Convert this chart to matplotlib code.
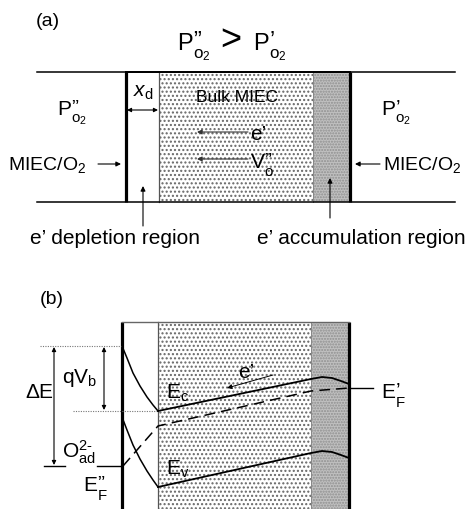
import numpy as np
import matplotlib
matplotlib.use("Agg")
import matplotlib.pyplot as plt
from matplotlib.patches import Rectangle

# =========================
# STYLE
# =========================
plt.rcParams['font.family'] = ['Liberation Sans', 'DejaVu Sans']
plt.rcParams['mathtext.fontset'] = 'custom'
plt.rcParams['mathtext.rm'] = 'Liberation Sans'
plt.rcParams['mathtext.it'] = 'Liberation Sans:italic'
plt.rcParams['mathtext.bf'] = 'Liberation Sans:bold'
plt.rcParams['hatch.linewidth'] = 1.0

W, H = 467, 509
THICK = 2.3
THIN = 0.9
DOT_COLOR = "#666666"
SHADE_COLOR = "#c0c0c0"
FS = 15

# =========================
# GEOMETRY (pixel units, y down)
# =========================
# panel (a): layer boundaries
A_TOP, A_BOT = 72, 202
A_LINE_X = [37, 455]
A_WALL_L, A_DEPL, A_ACC, A_WALL_R = 126, 159, 313, 350

# panel (b): layer boundaries
B_TOP, B_BOT = 322, 509
B_WALL_L, B_DEPL, B_ACC, B_WALL_R = 122, 158, 311, 349

# band edges (x, y)
EC_SURF_X = [122, 127, 133, 140, 147, 153, 158]
EC_SURF_Y = [346, 358, 373, 386, 397, 405, 411]
EV_SURF_X = [122, 127, 133, 140, 147, 153, 158]
EV_SURF_Y = [417, 430, 445, 459, 471, 480, 487]
EC_BULK_X = [158, 311, 322, 332, 341, 349]
EC_BULK_Y = [411, 379, 377, 378, 381, 384]
EV_BULK_X = [158, 311, 322, 332, 341, 349]
EV_BULK_Y = [487, 453, 451, 452, 455, 458]
EF_X = [123, 158, 311, 349]
EF_Y = [466, 426, 391, 388]

LEVEL_TOP, LEVEL_CB, LEVEL_EF = 346, 411, 466

DPR = "\u201d"   # double prime look
SPR = "\u2019"   # single prime look
E_EL = "e" + SPR
O2_SUB = r"$\mathrm{o}_{2}$"

fig = plt.figure(figsize=(W / 100, H / 100), dpi=100)
ax = fig.add_axes([0, 0, 1, 1])
ax.set_xlim(0, W)
ax.set_ylim(H, 0)
ax.axis("off")


def arrow(x0, y0, x1, y1, style="-|>", lw=0.8, ms=7, color="black"):
    ax.annotate("", xy=(x1, y1), xytext=(x0, y0),
                arrowprops=dict(arrowstyle=style, lw=lw, color=color,
                                mutation_scale=ms, shrinkA=0, shrinkB=0))


def sym(x, y, base, sup, sub, fs, sub_drop=0.36, z=6):
    """base letter with prime on top and subscript underneath, x/y = left baseline"""
    em = fs * 100 / 72
    bw = 0.667 * em
    ax.text(x, y, r"$\mathrm{%s}$" % base, fontsize=fs, ha="left", va="baseline", zorder=z)
    ax.text(x + bw + 0.01 * em, y - 0.12 * em, r"$\mathrm{%s}$" % sup, fontsize=fs,
            ha="left", va="baseline", zorder=z)
    ax.text(x + bw + 0.01 * em, y + sub_drop * em, sub, fontsize=fs * 0.72,
            ha="left", va="baseline", zorder=z)


def layers(top, bot, wl, dp, ac, wr):
    # dotted bulk
    ax.add_patch(Rectangle((dp, top), ac - dp, bot - top, facecolor="white",
                           edgecolor=DOT_COLOR, linewidth=0, hatch="....", zorder=1))
    # shaded accumulation
    ax.add_patch(Rectangle((ac, top), wr - ac, bot - top, facecolor=SHADE_COLOR,
                           edgecolor="#8f8f8f", linewidth=0, hatch="......", zorder=1))
    ax.plot([dp, dp], [top, bot], color="#555555", lw=THIN, zorder=2)
    ax.plot([ac, ac], [top, bot], color="#888888", lw=0.7, zorder=2)
    ax.plot([wl, wl], [top, bot], color="black", lw=THICK, zorder=3, solid_capstyle="butt")
    ax.plot([wr, wr], [top, bot], color="black", lw=THICK, zorder=3, solid_capstyle="butt")


# =========================
# PANEL (a)
# =========================
ax.text(48, 21, "(a)", fontsize=14, ha="center", va="center")
sym(177, 50, "P", DPR, O2_SUB, 17)
ax.text(231, 40, ">", fontsize=26, ha="center", va="center")
sym(253, 50, "P", SPR, O2_SUB, 17)

layers(A_TOP, A_BOT, A_WALL_L, A_DEPL, A_ACC, A_WALL_R)
for yy in (A_TOP, A_BOT):
    ax.plot(A_LINE_X, [yy, yy], color="black", lw=1.1, zorder=4)
ax.plot([A_WALL_L, A_WALL_R], [A_TOP, A_TOP], color="black", lw=1.4, zorder=4)

sym(57, 115, "P", DPR, O2_SUB, FS)
sym(381, 115, "P", SPR, O2_SUB, FS)

ax.text(143, 92, r"$x_{\mathrm{d}}$", fontsize=FS, ha="center", va="center", zorder=5)
arrow(A_WALL_L + 1, 110, A_DEPL - 1, 110, style="<|-|>", ms=6)

ax.text(237, 97, "Bulk MIEC", fontsize=12.5, ha="center", va="center", zorder=5)
arrow(248, 132, 197, 132, color="#333333")
ax.text(250, 134, E_EL, fontsize=FS, ha="left", va="center", zorder=5)
arrow(248, 159, 197, 159, color="#333333")
sym(250, 168, "V", DPR, r"$\mathrm{o}$", FS)

ax.text(8, 165, r"$\mathrm{MIEC/O}_2$", fontsize=14, ha="left", va="center")
arrow(98, 164, 121, 164)
ax.text(383, 165, r"$\mathrm{MIEC/O}_2$", fontsize=14, ha="left", va="center")
arrow(380, 164, 355, 164)

arrow(143, 226, 143, 186)
arrow(330, 218, 330, 178)
ax.text(115, 238, E_EL + " depletion region", fontsize=FS, ha="center", va="center")
ax.text(361, 238, E_EL + " accumulation region", fontsize=FS, ha="center", va="center")

# =========================
# PANEL (b)
# =========================
ax.text(52, 299, "(b)", fontsize=14, ha="center", va="center")
layers(B_TOP, B_BOT + 5, B_WALL_L, B_DEPL, B_ACC, B_WALL_R)
ax.plot([B_WALL_L, B_WALL_R], [B_TOP, B_TOP], color="#666666", lw=1.0, zorder=4)

# guide levels
ax.plot([40, B_WALL_L], [LEVEL_TOP, LEVEL_TOP], color="#777777", lw=0.8, ls=(0, (1, 1.2)), zorder=4)
ax.plot([73, B_DEPL], [LEVEL_CB, LEVEL_CB], color="#777777", lw=0.8, ls=(0, (1, 1.2)), zorder=4)
ax.plot([44, 65], [LEVEL_EF, LEVEL_EF], color="black", lw=1.0)
ax.plot([97, B_WALL_L], [LEVEL_EF, LEVEL_EF], color="black", lw=1.0, zorder=4)
ax.plot([B_WALL_R, 373], [EF_Y[-1], EF_Y[-1]], color="black", lw=1.0, zorder=4)

arrow(54, LEVEL_TOP + 1, 54, LEVEL_EF - 1, style="<|-|>", ms=6)
arrow(104, LEVEL_TOP + 1, 104, LEVEL_CB - 1, style="<|-|>", ms=6)

# bands
ax.plot(EC_SURF_X, EC_SURF_Y, color="black", lw=1.1, zorder=5)
ax.plot(EV_SURF_X, EV_SURF_Y, color="black", lw=1.1, zorder=5)
ax.plot(EC_BULK_X, EC_BULK_Y, color="black", lw=1.3, zorder=5)
ax.plot(EV_BULK_X, EV_BULK_Y, color="black", lw=1.3, zorder=5)
ax.plot(EF_X, EF_Y, color="black", lw=1.1, ls=(0, (7, 4)), zorder=5)

arrow(273, 375, 227, 388, lw=0.7)
ax.text(238, 372, E_EL, fontsize=FS, ha="left", va="center", zorder=6)
ax.text(166, 393, r"$\mathrm{E}_{\mathrm{c}}$", fontsize=FS, ha="left", va="center", zorder=6)
ax.text(166, 469, r"$\mathrm{E}_{\mathrm{v}}$", fontsize=FS, ha="left", va="center", zorder=6)

ax.text(39, 393, "ΔE", fontsize=FS, ha="center", va="center")
ax.text(80, 378, r"$\mathrm{qV}_{\mathrm{b}}$", fontsize=FS, ha="center", va="center")
ax.text(79, 452, r"$\mathrm{O}^{2\text{-}}_{\mathrm{ad}}$", fontsize=FS, ha="center", va="center")
sym(83, 491, "E", DPR, r"$\mathrm{F}$", FS, sub_drop=0.44)
sym(381, 398, "E", SPR, r"$\mathrm{F}$", FS, sub_drop=0.44)

fig.savefig("out.png", dpi=100)
